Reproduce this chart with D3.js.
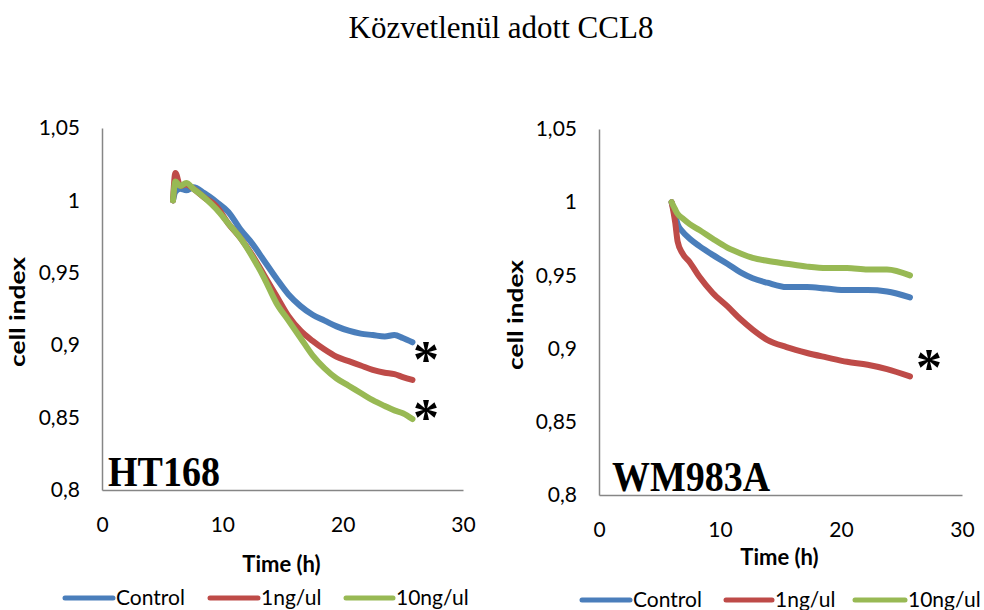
<!DOCTYPE html>
<html>
<head>
<meta charset="utf-8">
<script src="https://cdn.jsdelivr.net/npm/d3@7/dist/d3.min.js"></script>
<style>
  html, body { margin: 0; padding: 0; background: #fff; }
  svg { display: block; }
</style>
</head>
<body>
<svg id="chart" width="984" height="610"></svg>
<script>
// ---- data -------------------------------------------------------------
const chartTitle = "Közvetlenül adott CCL8";
const seriesNames = ["Control", "1ng/ul", "10ng/ul"];
const yTickValues = [0.8, 0.85, 0.9, 0.95, 1, 1.05];
const xTickValues = [0, 10, 20, 30];

// HT168 (time in hours, cell index)
const htTime    = [5.9, 6.1, 6.5, 7.0, 7.6, 8.5, 9.5, 10.5, 11.5, 12.5, 13.5, 14.5, 15.5, 16.5, 17.5, 18.5, 19.5, 20.5, 21.5, 22.5, 23.5, 24.3, 25.0, 25.8];
const htControl = [1.000, 1.006, 1.008, 1.007, 1.009, 1.005, 0.999, 0.992, 0.980, 0.970, 0.958, 0.946, 0.935, 0.927, 0.921, 0.917, 0.913, 0.910, 0.908, 0.907, 0.906, 0.907, 0.905, 0.902];
const ht1ng     = [1.000, 1.019, 1.010, 1.011, 1.008, 1.002, 0.996, 0.984, 0.974, 0.962, 0.948, 0.934, 0.920, 0.910, 0.903, 0.897, 0.892, 0.889, 0.886, 0.883, 0.881, 0.880, 0.878, 0.876];
const ht10ng    = [1.000, 1.013, 1.010, 1.012, 1.008, 1.002, 0.994, 0.984, 0.974, 0.961, 0.946, 0.929, 0.917, 0.905, 0.893, 0.884, 0.877, 0.872, 0.867, 0.862, 0.858, 0.855, 0.853, 0.849];
const htStars   = [0.895, 0.855];

// WM983A
const wmTime    = [6.0, 6.3, 6.5, 6.9, 7.5, 8.3, 9.4, 10.6, 11.7, 12.7, 13.9, 15.5, 17.2, 18.8, 20.5, 22.2, 23.8, 25.7];
const wmControl = [1.000, 0.991, 0.985, 0.980, 0.975, 0.970, 0.964, 0.958, 0.952, 0.948, 0.945, 0.942, 0.942, 0.941, 0.940, 0.940, 0.939, 0.935];
const wm1ng     = [1.000, 0.986, 0.973, 0.965, 0.959, 0.949, 0.938, 0.929, 0.920, 0.913, 0.906, 0.901, 0.897, 0.894, 0.891, 0.889, 0.886, 0.881];
const wm10ng    = [1.000, 0.995, 0.992, 0.989, 0.985, 0.981, 0.975, 0.969, 0.965, 0.962, 0.960, 0.958, 0.956, 0.955, 0.955, 0.954, 0.954, 0.950];
const wmStars   = [0.892];

// ---- drawing ----------------------------------------------------------
const colors = ["#4a7ebb", "#be4b48", "#98b954"];
const axisColor = "#868686";
const sans = "Lato, 'Open Sans', sans-serif";
const serif = "'Liberation Serif', 'Times New Roman', serif";
const fmt = v => d3.format(".2~f")(v).replace(".", ",");

const svg = d3.select("#chart");

svg.append("text")
  .attr("x", 501).attr("y", 38)
  .attr("text-anchor", "middle")
  .style("font-family", serif).style("font-size", "31px")
  .attr("fill", "#000")
  .text(chartTitle);

const panels = [
  { name: "HT168", time: htTime, series: [htControl, ht1ng, ht10ng], stars: htStars,
    x0: 102, x1: 463, yTop: 128, yBot: 490, labelX: 20, nameDx: 6, timeDy: 82,
    starX: 426, legendY: 598, legendLines: [[65, 113], [210, 258], [346, 393]] },
  { name: "WM983A", time: wmTime, series: [wmControl, wm1ng, wm10ng], stars: wmStars,
    x0: 599, x1: 962, yTop: 129, yBot: 495, labelX: 518, nameDx: 13, timeDy: 70,
    starX: 929, legendY: 600, legendLines: [[582, 630], [726, 772], [855, 905]] }
];

panels.forEach(p => {
  const x = d3.scaleLinear().domain([0, 30]).range([p.x0, p.x1]);
  const y = d3.scaleLinear().domain([0.8, 1.05]).range([p.yBot, p.yTop]);
  const g = svg.append("g");

  // y axis
  const ya = g.append("g").attr("transform", `translate(${p.x0},0)`)
    .call(d3.axisLeft(y).tickValues(yTickValues).tickFormat(fmt).tickSize(0).tickPadding(22));
  // x axis
  const xa = g.append("g").attr("transform", `translate(0,${p.yBot})`)
    .call(d3.axisBottom(x).tickValues(xTickValues).tickFormat(d3.format("d")).tickSize(0).tickPadding(27));
  [ya, xa].forEach(a => {
    a.select(".domain").attr("stroke", axisColor).attr("stroke-width", 1.5);
    a.selectAll("text").style("font-family", sans).style("font-size", "21px").attr("fill", "#000");
  });

  // axis titles
  g.append("text")
    .attr("transform", `translate(${p.labelX + 5},${(p.yTop + p.yBot) / 2 + 3}) rotate(-90)`)
    .attr("text-anchor", "middle")
    .attr("textLength", 110).attr("lengthAdjust", "spacingAndGlyphs")
    .style("font-family", sans).style("font-size", "21px").style("font-weight", "bold")
    .text("cell index");
  g.append("text")
    .attr("x", (p.x0 + p.x1) / 2 - 1).attr("y", p.yBot + p.timeDy)
    .attr("text-anchor", "middle")
    .style("font-family", sans).style("font-size", "22px").style("font-weight", "bold")
    .text("Time (h)");

  // series lines
  const line = d3.line().x(d => x(d[0])).y(d => y(d[1])).curve(d3.curveMonotoneX);
  p.series.forEach((vals, i) => {
    g.append("path")
      .datum(p.time.map((t, k) => [t, vals[k]]))
      .attr("d", line)
      .attr("fill", "none")
      .attr("stroke", colors[i])
      .attr("stroke-width", 6)
      .attr("stroke-linejoin", "round")
      .attr("stroke-linecap", "round");
  });

  // significance markers (glyph centred on the value)
  p.stars.forEach(v => {
    g.append("text")
      .attr("x", p.starX).attr("y", y(v) + 25)
      .attr("text-anchor", "middle")
      .style("font-family", serif).style("font-size", "52px").style("font-weight", "bold")
      .text("*");
  });

  // cell line label
  g.append("text")
    .attr("transform", `translate(${p.x0 + p.nameDx},${p.yBot - 4}) scale(1,1.1)`)
    .style("font-family", serif).style("font-size", "38px").style("font-weight", "bold")
    .text(p.name);

  // legend
  p.legendLines.forEach((seg, i) => {
    g.append("line")
      .attr("x1", seg[0]).attr("x2", seg[1])
      .attr("y1", p.legendY).attr("y2", p.legendY)
      .attr("stroke", colors[i]).attr("stroke-width", 5).attr("stroke-linecap", "round");
    g.append("text")
      .attr("x", seg[1] + 3).attr("y", p.legendY + 7)
      .style("font-family", sans).style("font-size", "21px")
      .text(seriesNames[i]);
  });
});
</script>
</body>
</html>
